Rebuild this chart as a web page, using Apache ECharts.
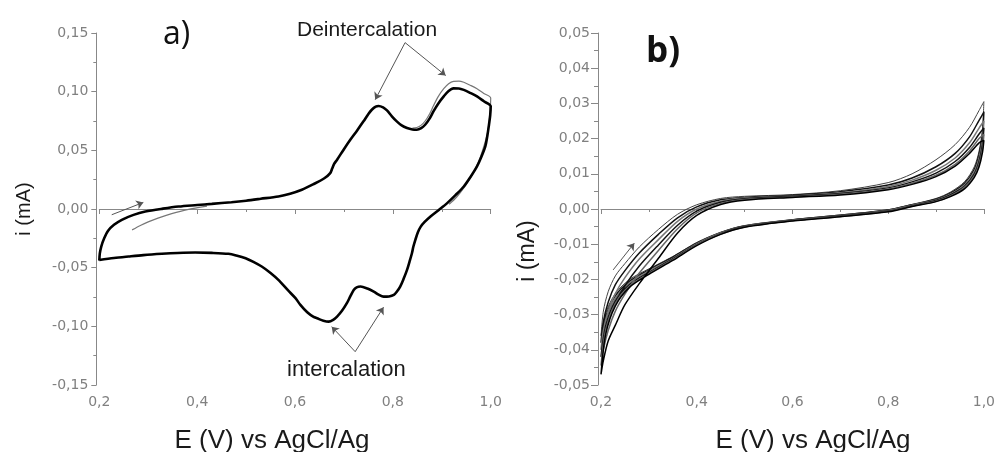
<!DOCTYPE html>
<html><head><meta charset="utf-8">
<script src="https://cdn.jsdelivr.net/npm/echarts@6/dist/echarts.min.js"></script>
<style>html,body{margin:0;padding:0;background:#fff}#c{width:998px;height:452px}</style>
</head><body><div id="c"></div>
<script>
// ---------- Panel a) data (E in V, i in mA) ----------
const aAnodicE = [0.2,0.201,0.204,0.21,0.218,0.23,0.246,0.27,0.294,0.33,0.362,0.40,0.43,0.47,0.50,0.53,0.566,0.59,0.614,0.637,0.66,0.672,0.676,0.68,0.686,0.70,0.713,0.727,0.740,0.75,0.757,0.765,0.771,0.78,0.788,0.798,0.808,0.818,0.829,0.84,0.849,0.858,0.866,0.875,0.883,0.893,0.904,0.914,0.924,0.935,0.945,0.958,0.972,0.986,1.0];
const aAnodicI = [-0.044,-0.038,-0.032,-0.025,-0.0185,-0.0135,-0.0092,-0.0050,-0.0022,0.0003,0.0021,0.0034,0.0044,0.0058,0.0071,0.0087,0.0107,0.0130,0.0164,0.0210,0.0262,0.0306,0.0345,0.0385,0.042,0.051,0.059,0.067,0.0747,0.081,0.0846,0.0872,0.0878,0.0866,0.0840,0.0790,0.0747,0.0712,0.0690,0.0678,0.0676,0.0690,0.0718,0.0770,0.0832,0.0900,0.0960,0.1005,0.1028,0.1027,0.1015,0.0990,0.0960,0.0918,0.0875];
const aCathodicE = [1.0,0.999,0.996,0.993,0.989,0.981,0.972,0.959,0.945,0.928,0.911,0.894,0.877,0.865,0.857,0.851,0.846,0.842,0.839,0.834,0.829,0.822,0.815,0.808,0.802,0.792,0.781,0.771,0.761,0.748,0.734,0.726,0.720,0.713,0.706,0.696,0.686,0.678,0.669,0.658,0.645,0.638,0.625,0.611,0.601,0.585,0.566,0.55,0.532,0.515,0.499,0.48,0.464,0.43,0.396,0.36,0.328,0.29,0.26,0.23,0.2];
const aCathodicI = [0.0875,0.080,0.0704,0.062,0.0533,0.0445,0.0363,0.0275,0.0192,0.0118,0.0050,-0.0008,-0.0064,-0.0110,-0.0150,-0.0200,-0.0263,-0.0320,-0.0377,-0.0450,-0.0519,-0.0595,-0.0661,-0.0705,-0.0732,-0.0745,-0.0747,-0.0730,-0.0704,-0.0678,-0.0661,-0.0668,-0.0690,-0.0745,-0.0803,-0.0868,-0.0917,-0.0945,-0.0960,-0.0952,-0.0931,-0.0920,-0.0880,-0.0817,-0.0760,-0.0690,-0.0604,-0.0545,-0.0490,-0.0450,-0.0419,-0.0396,-0.0382,-0.0374,-0.0371,-0.0375,-0.0382,-0.0393,-0.0405,-0.0418,-0.0435];
// first cycle (thin grey) where it separates from the others
const aFirstStartE = [0.267,0.285,0.30,0.32,0.348,0.38,0.42];
const aFirstStartI = [-0.0178,-0.0138,-0.0110,-0.0078,-0.0040,-0.0005,0.0025];
const aFirstTopE = [0.84,0.849,0.858,0.866,0.875,0.883,0.893,0.904,0.914,0.924,0.935,0.945,0.958,0.972,0.986,1.0,0.999,0.997,0.993,0.985,0.975,0.962,0.947,0.93,0.915];
const aFirstTopI = [0.0690,0.0695,0.0715,0.0750,0.0810,0.0880,0.0960,0.1025,0.1068,0.1088,0.1090,0.1080,0.1055,0.1025,0.0985,0.0946,0.085,0.075,0.064,0.052,0.040,0.029,0.019,0.010,0.004];
// annotation arrows [x1,y1,x2,y2] in data units
const aArrows = [[0.825,0.1418,0.764,0.0932],[0.825,0.1418,0.908,0.1137],[0.723,-0.1216,0.675,-0.1003],[0.723,-0.1216,0.781,-0.0837],[0.2254,-0.0049,0.290,0.0056]];

// ---------- Panel b) data: six successive cycles ----------
const bAnodicE = [0.2,0.205,0.215,0.23,0.25,0.28,0.32,0.36,0.40,0.45,0.5,0.6,0.7,0.8,0.85,0.9,0.94,0.97,0.99,1.0];
const bCathodicE = [1.0,0.997,0.99,0.98,0.96,0.93,0.9,0.85,0.8,0.7,0.6,0.5,0.45,0.4,0.35,0.3,0.26,0.23,0.21,0.2];
const bAnodic1 = [-0.036,-0.029,-0.0235,-0.019,-0.0155,-0.0108,-0.0058,-0.0015,0.0012,0.0030,0.0036,0.0041,0.0052,0.0075,0.0100,0.0140,0.0183,0.0232,0.0280,0.0305];
const bAnodic2 = [-0.038,-0.032,-0.0265,-0.0215,-0.0175,-0.0125,-0.0072,-0.0025,0.0006,0.0026,0.0033,0.0039,0.0049,0.0068,0.0088,0.0120,0.0158,0.0205,0.0252,0.0275];
const bAnodic3 = [-0.040,-0.0345,-0.029,-0.024,-0.0195,-0.0142,-0.0087,-0.0035,0.0000,0.0022,0.0031,0.0037,0.0046,0.0064,0.0082,0.0110,0.0145,0.0188,0.0230,0.0250];
const bAnodic4 = [-0.042,-0.037,-0.0315,-0.0265,-0.0218,-0.0162,-0.0102,-0.0046,-0.0006,0.0019,0.0029,0.0036,0.0044,0.0060,0.0077,0.0102,0.0135,0.0175,0.0213,0.0230];
const bAnodic5 = [-0.0445,-0.040,-0.0345,-0.029,-0.0242,-0.0182,-0.0118,-0.0056,-0.0011,0.0016,0.0027,0.0034,0.0042,0.0057,0.0073,0.0096,0.0127,0.0165,0.0200,0.0212];
const bAnodic6 = [-0.047,-0.043,-0.0375,-0.033,-0.0272,-0.0212,-0.0140,-0.0068,-0.0018,0.0013,0.0025,0.0033,0.0040,0.0055,0.0070,0.0092,0.0122,0.0158,0.0188,0.0195];
const bCathodic1 = [0.0305,0.0225,0.0165,0.0120,0.0078,0.0048,0.0030,0.0013,-0.0002,-0.0017,-0.0030,-0.0047,-0.0066,-0.0095,-0.0135,-0.0170,-0.0200,-0.0240,-0.0295,-0.036];
const bCathodic2 = [0.0275,0.0210,0.0155,0.0113,0.0074,0.0045,0.0028,0.0012,-0.0003,-0.0018,-0.0031,-0.0048,-0.0067,-0.0097,-0.0137,-0.0173,-0.0205,-0.0247,-0.0306,-0.038];
const bCathodic3 = [0.0250,0.0195,0.0145,0.0106,0.0069,0.0042,0.0026,0.0011,-0.0004,-0.0019,-0.0032,-0.0049,-0.0068,-0.0099,-0.0140,-0.0176,-0.0209,-0.0254,-0.0318,-0.040];
const bCathodic4 = [0.0230,0.0182,0.0136,0.0100,0.0065,0.0040,0.0024,0.0009,-0.0006,-0.0020,-0.0033,-0.0050,-0.0070,-0.0101,-0.0142,-0.0180,-0.0214,-0.0261,-0.0331,-0.042];
const bCathodic5 = [0.0212,0.0170,0.0128,0.0095,0.0062,0.0037,0.0022,0.0008,-0.0007,-0.0021,-0.0033,-0.0051,-0.0071,-0.0102,-0.0144,-0.0183,-0.0218,-0.0268,-0.0343,-0.0445];
const bCathodic6 = [0.0195,0.0160,0.0120,0.0090,0.0058,0.0035,0.0021,0.0007,-0.0008,-0.0022,-0.0034,-0.0052,-0.0072,-0.0104,-0.0146,-0.0186,-0.0222,-0.0275,-0.0355,-0.047];
const bArrows = [[0.2254,-0.0173,0.2696,-0.0097]];

// ---------- tick labels ----------
const xTicks = [0.2,0.4,0.6,0.8,1.0];
const aYTicks = [-0.15,-0.10,-0.05,0.00,0.05,0.10,0.15];
const bYTicks = [-0.05,-0.04,-0.03,-0.02,-0.01,0.00,0.01,0.02,0.03,0.04,0.05];

function zip(xs, ys){ return xs.map((x,i)=>[x, ys[i]]); }
function loop(xa, ya, xc, yc){ return zip(xa, ya).concat(zip(xc, yc).slice(1)); }
function arrowData(arr){ return arr.map(a=>[{coord:[a[0],a[1]]},{coord:[a[2],a[3]]}]); }
const comma = d => v => v.toFixed(d).replace('.', ',');

const lblFont = {color:'#808080', fontFamily:'DejaVu Sans', fontSize:14};
const axCol = '#888';
function xAxisDef(gi){
  return {type:'value', gridIndex:gi, min:xTicks[0], max:xTicks[xTicks.length-1], interval:0.2,
    splitLine:{show:false}, axisLine:{lineStyle:{color:axCol}},
    axisTick:{length:5, lineStyle:{color:axCol}},
    minorTick:{show:true, splitNumber:2, length:3, lineStyle:{color:axCol}},
    axisLabel:Object.assign({formatter:comma(1), margin:10}, lblFont)};
}
function yAxisDef(gi, ticks, step, tl, ml){
  return {type:'value', gridIndex:gi, min:ticks[0], max:ticks[ticks.length-1], interval:step, offset:3,
    splitLine:{show:false}, axisLine:{show:true, lineStyle:{color:axCol}},
    axisTick:{show:true, length:tl, lineStyle:{color:axCol}},
    minorTick:{show:true, splitNumber:2, length:ml, lineStyle:{color:axCol}},
    axisLabel:Object.assign({formatter:comma(2), margin:8}, lblFont)};
}
const arrowLine = (arr) => ({silent:true, symbol:['none','arrow'], symbolSize:7, label:{show:false},
  lineStyle:{color:'#555', width:1, type:'solid'}, emphasis:{disabled:true}, data:arrowData(arr)});

const bCycles = [[bAnodic1,bCathodic1],[bAnodic2,bCathodic2],[bAnodic3,bCathodic3],[bAnodic4,bCathodic4],[bAnodic5,bCathodic5],[bAnodic6,bCathodic6]];
const bColors = ['#444','#111','#777','#111','#666','#000'];

const series = [
  {type:'line', xAxisIndex:0, yAxisIndex:0, showSymbol:false, smooth:0.3, silent:true,
   lineStyle:{color:'#777', width:1.2}, data:zip(aFirstStartE, aFirstStartI)},
  {type:'line', xAxisIndex:0, yAxisIndex:0, showSymbol:false, smooth:0.3, silent:true,
   lineStyle:{color:'#777', width:1.2}, data:zip(aFirstTopE, aFirstTopI)},
  {type:'line', xAxisIndex:0, yAxisIndex:0, showSymbol:false, smooth:0.3, silent:true,
   lineStyle:{color:'#000', width:2.6}, data:loop(aAnodicE, aAnodicI, aCathodicE, aCathodicI),
   markLine:arrowLine(aArrows)}
];
bCycles.forEach((c,i)=>{
  series.push({type:'line', xAxisIndex:1, yAxisIndex:1, showSymbol:false, smooth:0.3, silent:true,
    lineStyle:{color:bColors[i], width:i===0?1:1.5}, data:loop(bAnodicE, c[0], bCathodicE, c[1]),
    markLine: i===0 ? arrowLine(bArrows) : undefined});
});

function txt(x, y, s, size, extra){
  return Object.assign({type:'text', x:x, y:y, style:{text:s, fontSize:size, fontFamily:'Liberation Sans',
    fill:'#1a1a1a', textAlign:'left', textVerticalAlign:'middle'}}, extra || {});
}
const chart = echarts.init(document.getElementById('c'), null, {renderer:'canvas'});
const g = [
  {type:'text', x:163, y:35, style:{text:'a)', fontSize:32, fontFamily:'Open Sans', fill:'#111', textVerticalAlign:'middle'}},
  {type:'text', x:646, y:52, style:{text:'b)', fontSize:35, fontWeight:'bold', fontFamily:'Open Sans', fill:'#111', textVerticalAlign:'middle'}},
  txt(297, 30, 'Deintercalation', 21),
  txt(287, 370, 'intercalation', 22),
  txt(272, 441, 'E (V) vs AgCl/Ag', 26),
  txt(813, 441, 'E (V) vs AgCl/Ag', 26),
  txt(24, 209, 'i (mA)', 20, {rotation:Math.PI/2}),
  txt(528, 251, 'i (mA)', 23, {rotation:Math.PI/2})
];
g[4].style.textAlign = 'center'; g[5].style.textAlign = 'center';
g[6].style.textAlign = 'center'; g[7].style.textAlign = 'center';
chart.setOption({
  animation:false, backgroundColor:'#fff',
  grid:[{left:99.3, top:33, width:391.4, height:352},{left:601, top:33, width:390.7, height:352}],
  xAxis:[xAxisDef(0), xAxisDef(1)],
  yAxis:[yAxisDef(0, aYTicks, 0.05, 5, 3), yAxisDef(1, bYTicks, 0.01, 7, 4)],
  series:series,
  graphic:g
});
</script></body></html>
